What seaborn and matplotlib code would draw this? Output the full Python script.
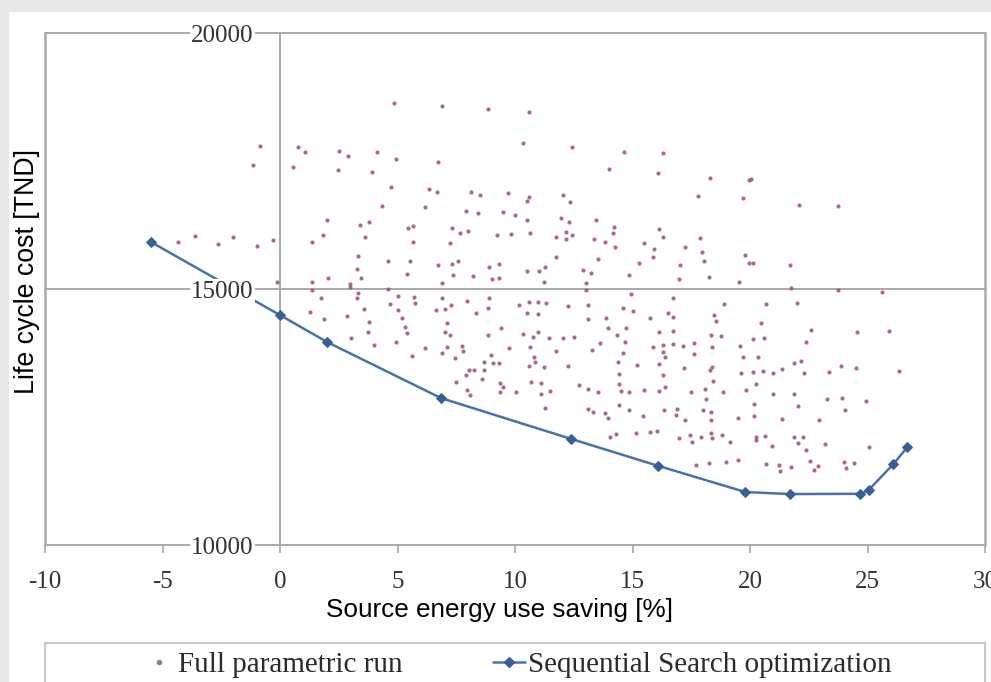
import matplotlib
matplotlib.use("Agg")
import matplotlib.pyplot as plt
from matplotlib.lines import Line2D
from matplotlib.patches import Rectangle
import seaborn as sns

# Sequential search optimization path
seq_saving = [-5.5, 0.0, 2.0, 6.85, 12.4, 16.1, 19.8, 21.7, 24.7, 25.05, 26.1, 26.7]
seq_cost = [15920, 14490, 13965, 12870, 12070, 11545, 11035, 10995, 11000, 11075, 11580, 11915]

# Full parametric run
run_saving = [
    -4.35, -3.62, -2.64, -2.0, -0.98, -0.3, -0.85, -1.15, -0.13,
    4.86, 0.77, 1.07, 0.55, 2.52, 2.90, 2.47, 4.14, 3.92, 4.95, 4.73, 4.35, 2.0, 1.83,
    1.36, 3.41, 3.80, 3.62, 3.33, 4.61, 3.28, 3.45, 2.05, 1.36, 2.99,
    6.91, 8.87, 10.58, 10.32, 12.41, 6.74, 6.35, 6.70, 8.14, 8.53, 9.72, 10.58, 10.49,
    12.03, 12.32, 6.18, 7.93, 8.44, 9.51, 10.02, 10.53, 11.94, 12.28, 5.46, 5.67, 7.33,
    7.68, 8.02, 9.25, 9.81, 10.62, 11.73, 12.15, 12.41, 5.67, 7.25, 12.19, 11.73, 5.54,
    6.74, 7.33, 7.59, 8.91, 9.34, 10.53, 11.0, 11.26, 5.42, 7.38, 8.23, 9.04, 9.30, 6.91, 11.22,
    14.63, 16.29, 13.99, 16.08, 18.29, 19.96, 17.78, 19.70, 13.43, 14.20, 14.16, 16.12,
    16.29, 13.35, 13.82, 14.24, 15.48, 15.91, 15.86, 17.23, 17.87, 17.95, 18.04, 13.52,
    15.27, 17.02, 19.79, 19.96, 12.88, 13.22, 14.84, 18.25, 16.97, 19.53, 13.01,
    20.04, 22.09, 23.75, 20.13, 21.71,
    21.75, 23.75, 25.63, 20.68, 22.0, 20.47, 20.6, 20.13, 22.6, 22.39, 24.56, 25.93,
    20.34, 21.88, 22.18, 23.88, 24.52, 26.35, 20.13, 20.56, 20.98, 21.37, 22.31, 23.37,
    20.26, 20.98, 21.88, 23.28, 23.92, 24.95, 22.05, 24.05, 20.17, 20.17, 21.37, 22.94,
    20.26, 20.26, 20.64, 21.88, 22.27, 22.05, 20.94, 23.2, 25.07, 22.39, 20.68, 21.24,
    21.75, 22.56, 22.9, 22.73, 24.01, 24.44, 24.09, 21.28,
    13.01, 14.93, 16.72, 18.89, 13.09, 14.58, 15.01, 16.5, 16.72, 18.46, 18.55, 13.09,
    13.86, 15.74, 14.71, 13.94, 16.12, 16.72, 18.34, 18.76, 14.33, 14.67, 13.6, 13.26,
    15.86, 16.29, 16.72, 17.14, 17.61, 17.61, 18.38, 19.57, 14.58, 16.29, 16.38, 19.7,
    14.37, 15.18, 16.12, 18.38, 17.19, 18.29, 14.41, 16.29, 19.62, 18.42, 12.71, 13.09,
    13.52, 14.41, 14.5, 14.84, 15.48, 16.12, 16.38, 17.48, 18.08, 18.85, 19.83, 18.12,
    14.41, 14.84, 13.09, 13.31, 13.82, 13.94, 15.44, 16.33, 16.89, 16.84, 17.23, 18.0,
    18.34, 18.34, 19.49, 14.03, 14.29, 15.14, 15.74, 16.04, 16.97, 17.44, 17.53, 17.91,
    18.34, 18.38, 18.81, 19.13, 17.7, 18.25, 18.98, 19.49,
    5.71, 5.76, 6.91, 7.97, 8.91, 8.87, 6.65, 7.04, 7.29, 8.36, 10.15, 10.58, 10.96,
    11.3, 10.49, 10.96, 12.24, 5.2, 5.33, 5.42, 7.12, 7.04, 7.25, 9.42, 8.83, 10.32,
    10.75, 10.96, 11.43, 12.03, 12.5, 6.18, 7.12, 7.76, 7.8, 9.76, 10.62, 11.73, 5.63,
    6.91, 7.46, 8.96, 8.66, 9.08, 9.34, 10.79, 10.87, 10.58, 11.22, 12.24, 8.06, 8.27,
    8.66, 7.93, 8.61, 7.5, 10.66, 11.09, 9.38, 9.51, 7.97, 9.38, 10.06, 11.09, 11.47,
    8.1, 11.26,
    1.36, 2.99, 3.33, 3.28, 4.61, 5.03, 1.75, 4.69, 5.03, 3.58, 1.28, 2.86, 1.88, 3.79,
    3.75, 3.03, 4.01, 4.93,
]
run_cost = [
    15920, 16040, 15880, 16020, 15840, 15960, 17790, 17420, 15140,
    18630, 17770, 17680, 17380, 17700, 17600, 17320, 17680, 17290, 17540, 16990, 16620, 16350, 16050,
    15920, 16250, 16310, 16020, 15640, 15550, 15390, 15210, 15210, 15140, 15100,
    18570, 18520, 18460, 17850, 17770, 17480, 16950, 16900, 16900, 16840, 16870, 16800, 16720,
    16840, 16700, 16600, 16520, 16480, 16500, 16450, 16350, 16390, 16310, 16190, 16230, 16190,
    16090, 16130, 16050, 16070, 16090, 16020, 16110, 16050, 15920, 15900, 15980, 15630, 15550,
    15470, 15490, 15550, 15430, 15490, 15350, 15350, 15430, 15290, 15270, 15250, 15200, 15210, 15120, 15140,
    17680, 17660, 17340, 17270, 17170, 17130, 16820, 16780, 16350, 16210, 16090, 16170,
    16020, 15980, 15920, 15820, 15900, 15780, 15630, 15820, 16000, 15720, 15550, 15590,
    15510, 15470, 15660, 15510, 15370, 15310, 15270, 15230, 15200, 15140, 15120,
    17150, 16640, 16620, 15510, 15470,
    15020, 14980, 14940, 14710, 14730, 14340, 14040, 14020, 14200, 13960, 14160, 14180,
    13670, 13550, 13590, 13500, 13460, 13400, 13380, 13400, 13360, 13440, 13360, 13380,
    13140, 12950, 12950, 12850, 12870, 12810, 12710, 12640, 12750, 12520, 12460, 12440,
    12110, 12050, 12130, 12110, 12110, 11990, 11930, 11970, 11910, 11860, 11580, 11560,
    11520, 11640, 11540, 11460, 11620, 11600, 11500, 11450,
    14980, 14900, 14820, 14710, 14690, 14630, 14570, 14530, 14450, 14490, 14380, 14410,
    14430, 14430, 14240, 14240, 14160, 14180, 14100, 14080, 14100, 13960, 13950, 13810,
    13870, 13910, 13930, 13890, 13950, 13730, 13870, 13890, 13750, 13770, 13670, 13670,
    13570, 13520, 13530, 13480, 13460, 13420, 13340, 13320, 13360, 13200, 13130, 13050,
    12990, 13140, 13010, 12990, 13030, 13010, 13090, 12990, 13050, 12990, 13030, 12850,
    12730, 12640, 12660, 12600, 12580, 12480, 12520, 12640, 12660, 12540, 12440, 12640,
    12600, 12440, 12480, 12110, 12170, 12190, 12210, 12230, 12090, 12150, 12010, 12110,
    12190, 12090, 12150, 12010, 11560, 11600, 11620, 11660,
    14840, 14730, 14820, 14770, 14820, 14630, 14590, 14610, 14690, 14530, 14690, 14750, 14750,
    14730, 14530, 14510, 14670, 14430, 14260, 14140, 14340, 14160, 14100, 14240, 14100, 14120,
    14060, 14160, 14040, 14040, 14060, 13850, 13870, 13890, 13790, 13850, 13870, 13790, 13690,
    13750, 13650, 13710, 13570, 13550, 13550, 13670, 13570, 13500, 13480, 13500, 13420, 13420,
    13420, 13320, 13240, 13180, 13180, 13160, 13160, 13090, 13030, 12990, 12990, 12950, 13010,
    12930, 12680,
    14980, 15040, 14920, 14820, 15000, 14860, 14820, 14710, 14590, 14610, 14550, 14470, 14410, 14350,
    14160, 14040, 13910, 13960,
]

sns.set_style("white")
plt.rcParams["font.family"] = ["Liberation Serif", "DejaVu Serif"]
plt.rcParams["axes.unicode_minus"] = False

frame_col = "#a9a9a9"
dot_col = "#9c5560"
line_col = "#4a72aa"
sans = ["Liberation Sans", "DejaVu Sans"]

fig = plt.figure(figsize=(9.91, 6.82), dpi=100, facecolor="#e8e8e8")
fig.patches.append(Rectangle((9 / 991, 0), 1, 1 - 12 / 682, transform=fig.transFigure,
                             facecolor="white", edgecolor="none", zorder=-5))
ax = fig.add_axes([45 / 991, 1 - 545 / 682, 940 / 991, 512 / 682])
ax.set_zorder(2)
ax.patch.set_alpha(0)

sns.scatterplot(x=run_saving, y=run_cost, ax=ax, marker="o", s=9, color=dot_col,
                linewidth=0, alpha=0.85, zorder=3)
sns.lineplot(x=seq_saving, y=seq_cost, ax=ax, sort=False, color=line_col, linewidth=1.8,
             marker="D", markersize=5, markeredgecolor="#3b5f94", markerfacecolor="#3b5f94",
             zorder=4)

ax.set_xlim(-10, 30)
ax.set_ylim(10000, 20000)
ax.set_xticks(range(-10, 31, 5))
ax.set_yticks([10000, 15000, 20000])

# frame: y axis crosses at x = 0, box lines drawn separately
ax.spines["left"].set_position(("data", 0))
ax.spines["left"].set_color(frame_col)
ax.spines["left"].set_linewidth(1.4)
ax.spines["right"].set_color(frame_col)
ax.spines["right"].set_linewidth(1.8)
ax.spines["top"].set_visible(False)
ax.spines["bottom"].set_visible(False)
ax.axvline(-10, color=frame_col, lw=1.8, zorder=1, clip_on=False)
for yv in [10000, 15000, 20000]:
    ax.axhline(yv, color=frame_col, lw=1.4, zorder=1, clip_on=False)

ax.tick_params(axis="x", direction="out", length=6, width=1.2, color=frame_col,
               labelsize=18, labelcolor="#333333", pad=13, bottom=True)
ax.tick_params(axis="y", length=0, labelsize=18, labelcolor="#333333", pad=19)
for lbl in ax.get_yticklabels():
    lbl.set_bbox(dict(facecolor="white", edgecolor="none", pad=1))
ax.yaxis.set_zorder(5)
ax.set_xlabel("")
ax.set_ylabel("")

fig.text(500 / 991, 1 - 610 / 682, "Source energy use saving [%]", ha="center", va="center",
         fontsize=18.8, family=sans, color="black")
fig.text(27 / 991, 1 - 272 / 682, "Life cycle cost [TND]", ha="center", va="center",
         rotation=90, fontsize=19.3, family=sans, color="black")

# legend box along the bottom
fig.patches.append(Rectangle((45 / 991, -0.05), 940 / 991, 0.05 + 1 - 643 / 682,
                             transform=fig.transFigure, facecolor="white",
                             edgecolor="#c8c8c8", lw=1.5, zorder=1))
handles = [
    Line2D([], [], ls="none", marker="o", markersize=3, color="#888888"),
    Line2D([], [], color=line_col, lw=1.8, marker="D", markersize=5,
           markerfacecolor="#3b5f94", markeredgecolor="#3b5f94"),
]
leg = fig.legend(handles, ["Full parametric run", "Sequential Search optimization"],
                 loc="center", bbox_to_anchor=(0.522, 1 - 665 / 682), ncol=2,
                 frameon=False, fontsize=21, handlelength=1.1, handletextpad=0.1,
                 columnspacing=3.1)
leg.set_zorder(6)
for t in leg.get_texts():
    t.set_color("#2b2b2b")

fig.savefig("out.png", dpi=100, facecolor=fig.get_facecolor())
